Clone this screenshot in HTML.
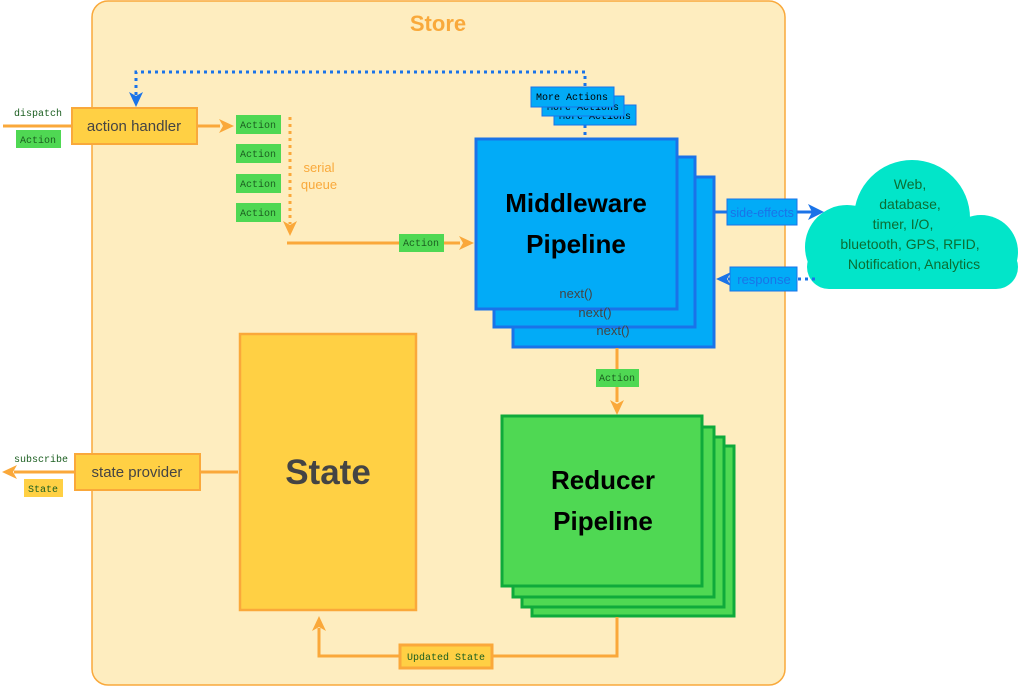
<!DOCTYPE html>
<html><head><meta charset="utf-8"><style>
html,body{margin:0;padding:0;background:#fff;}
svg{display:block;}
.mono{font-family:"Liberation Mono","DejaVu Sans Mono",monospace;}
.sans{font-family:"Liberation Sans","DejaVu Sans",sans-serif;}
</style></head><body>
<svg width="1019" height="686" viewBox="0 0 1019 686" xmlns="http://www.w3.org/2000/svg">
<!-- Store -->
<rect x="92" y="1" width="693" height="684" rx="16" fill="#FEEDBF" stroke="#F9A93B" stroke-width="1.5"/>
<text x="438" y="31" text-anchor="middle" class="sans" font-size="22" font-weight="bold" fill="#F9A93B">Store</text>

<!-- dispatch -->
<text x="14" y="116" class="mono" font-size="10" fill="#1B5E20">dispatch</text>
<line x1="3" y1="126" x2="72" y2="126" stroke="#FAA83A" stroke-width="3"/>
<rect x="16" y="130" width="45" height="18" fill="#4FD853"/>
<text x="38" y="143" text-anchor="middle" class="mono" font-size="10" fill="#1B5E20">Action</text>
<rect x="72" y="108" width="125" height="36" fill="#FFD044" stroke="#F9A93B" stroke-width="2"/>
<text x="134" y="131" text-anchor="middle" class="sans" font-size="15" fill="#444">action handler</text>
<line x1="197" y1="126" x2="220" y2="126" stroke="#FAA83A" stroke-width="3"/>
<polygon points="234,126 219,119 223,126 219,133" fill="#FAA83A"/>

<!-- queue actions -->
<g class="mono" font-size="10" fill="#1B5E20" text-anchor="middle">
<rect x="236" y="115" width="45" height="19" fill="#4FD853"/><text x="258" y="128">Action</text>
<rect x="236" y="144" width="45" height="19" fill="#4FD853"/><text x="258" y="157">Action</text>
<rect x="236" y="174" width="45" height="19" fill="#4FD853"/><text x="258" y="187">Action</text>
<rect x="236" y="203" width="45" height="19" fill="#4FD853"/><text x="258" y="216">Action</text>
</g>
<line x1="290" y1="117" x2="290" y2="224" stroke="#FAA83A" stroke-width="3" stroke-dasharray="3,4"/>
<polygon points="290,236 283,221 290,225 297,221" fill="#FAA83A"/>
<text x="319" y="172" text-anchor="middle" class="sans" font-size="13" fill="#F9A93B">serial</text>
<text x="319" y="189" text-anchor="middle" class="sans" font-size="13" fill="#F9A93B">queue</text>
<line x1="287" y1="243" x2="460" y2="243" stroke="#FAA83A" stroke-width="3"/>
<polygon points="474,243 459,236 463,243 459,250" fill="#FAA83A"/>
<rect x="399" y="234" width="45" height="18" fill="#4FD853"/>
<text x="421" y="246" text-anchor="middle" class="mono" font-size="10" fill="#1B5E20">Action</text>

<!-- blue dotted loop -->
<path d="M585,135 L585,72 L136,72 L136,95" fill="none" stroke="#1A73E8" stroke-width="3" stroke-dasharray="3,4"/>
<polygon points="136,107 129,92 136,96 143,92" fill="#1A73E8"/>

<!-- middleware -->
<g stroke="#1A73E8" stroke-width="3" fill="#02ABF7">
<rect x="513" y="177" width="201" height="170"/>
<rect x="494" y="157" width="201" height="170"/>
<rect x="476" y="139" width="201" height="170"/>
</g>
<g class="sans" font-size="13" fill="#444" text-anchor="middle">
<text x="613" y="335">next()</text>
<text x="595" y="317">next()</text>
<text x="576" y="298">next()</text>
</g>
<text x="576" y="212" text-anchor="middle" class="sans" font-size="26" font-weight="bold" fill="#000">Middleware</text>
<text x="576" y="253" text-anchor="middle" class="sans" font-size="26" font-weight="bold" fill="#000">Pipeline</text>

<!-- more actions -->
<rect x="554" y="105" width="82" height="20" fill="#02ABF7" stroke="#1A73E8" stroke-width="1"/>
<text x="595" y="119" text-anchor="middle" class="mono" font-size="10" fill="#000">More Actions</text>
<rect x="542" y="96" width="82" height="20" fill="#02ABF7" stroke="#1A73E8" stroke-width="1"/>
<text x="583" y="110" text-anchor="middle" class="mono" font-size="10" fill="#000">More Actions</text>
<rect x="531" y="87" width="83" height="20" fill="#02ABF7" stroke="#1A73E8" stroke-width="1"/>
<text x="572" y="100" text-anchor="middle" class="mono" font-size="10" fill="#000">More Actions</text>

<!-- cloud -->
<g fill="#02E5C9">
<circle cx="912" cy="218" r="58"/>
<circle cx="847" cy="247" r="42"/>
<circle cx="981" cy="252" r="37"/>
<rect x="807" y="245" width="211" height="44" rx="22"/>
<rect x="845" y="230" width="140" height="59"/>
</g>
<g class="sans" font-size="14" fill="#0B6E33" text-anchor="middle">
<text x="910" y="189">Web,</text>
<text x="910" y="209">database,</text>
<text x="903" y="229">timer, I/O,</text>
<text x="910" y="249">bluetooth, GPS, RFID,</text>
<text x="914" y="269">Notification, Analytics</text>
</g>
<line x1="714" y1="212" x2="812" y2="212" stroke="#1A73E8" stroke-width="3"/>
<polygon points="824,212 808,204 812,212 808,220" fill="#1A73E8"/>
<rect x="727" y="199" width="70" height="26" fill="#02ABF7" stroke="#1A73E8" stroke-width="1"/>
<text x="762" y="217" text-anchor="middle" class="sans" font-size="12.5" fill="#1A73E8">side-effects</text>
<line x1="815" y1="279" x2="728" y2="279" stroke="#1A73E8" stroke-width="3" stroke-dasharray="3,4"/>
<polygon points="716,279 731,272 727,279 731,286" fill="#1A73E8"/>
<rect x="730" y="267" width="67" height="24" fill="#02ABF7" stroke="#1A73E8" stroke-width="1"/>
<text x="764" y="284" text-anchor="middle" class="sans" font-size="13" fill="#1A73E8">response</text>

<!-- middleware to reducer -->
<line x1="617" y1="348" x2="617" y2="402" stroke="#FAA83A" stroke-width="3"/>
<polygon points="617,415 610,400 617,404 624,400" fill="#FAA83A"/>
<rect x="596" y="369" width="43" height="18" fill="#4FD853"/>
<text x="617" y="381" text-anchor="middle" class="mono" font-size="10" fill="#1B5E20">Action</text>

<!-- reducer -->
<g stroke="#0FAA3B" stroke-width="3" fill="#4FD853">
<rect x="532" y="446" width="202" height="170"/>
<rect x="522" y="437" width="202" height="170"/>
<rect x="513" y="427" width="201" height="170"/>
<rect x="502" y="416" width="200" height="170"/>
</g>
<text x="603" y="489" text-anchor="middle" class="sans" font-size="26" font-weight="bold" fill="#000">Reducer</text>
<text x="603" y="530" text-anchor="middle" class="sans" font-size="26" font-weight="bold" fill="#000">Pipeline</text>

<!-- updated state -->
<path d="M617,617 L617,656 L319,656 L319,628" fill="none" stroke="#FAA83A" stroke-width="3"/>
<polygon points="319,616 312,631 319,627 326,631" fill="#FAA83A"/>
<rect x="400" y="645" width="92" height="23" fill="#FFD044" stroke="#FAA83A" stroke-width="3"/>
<text x="446" y="660" text-anchor="middle" class="mono" font-size="10" fill="#1B5E20">Updated State</text>

<!-- state -->
<rect x="240" y="334" width="176" height="276" fill="#FFD044" stroke="#FAA83A" stroke-width="2.5"/>
<text x="328" y="484" text-anchor="middle" class="sans" font-size="35" font-weight="bold" fill="#444">State</text>

<!-- state provider -->
<line x1="200" y1="472" x2="238" y2="472" stroke="#FAA83A" stroke-width="3"/>
<rect x="75" y="454" width="125" height="36" fill="#FFD044" stroke="#FAA83A" stroke-width="2"/>
<text x="137" y="477" text-anchor="middle" class="sans" font-size="15" fill="#444">state provider</text>
<line x1="75" y1="472" x2="14" y2="472" stroke="#FAA83A" stroke-width="3"/>
<polygon points="2,472 17,465 13,472 17,479" fill="#FAA83A"/>
<text x="14" y="462" class="mono" font-size="10" fill="#1B5E20">subscribe</text>
<rect x="24" y="479" width="39" height="18" fill="#FFD044"/>
<text x="43" y="492" text-anchor="middle" class="mono" font-size="10" fill="#1B5E20">State</text>
</svg>
</body></html>
